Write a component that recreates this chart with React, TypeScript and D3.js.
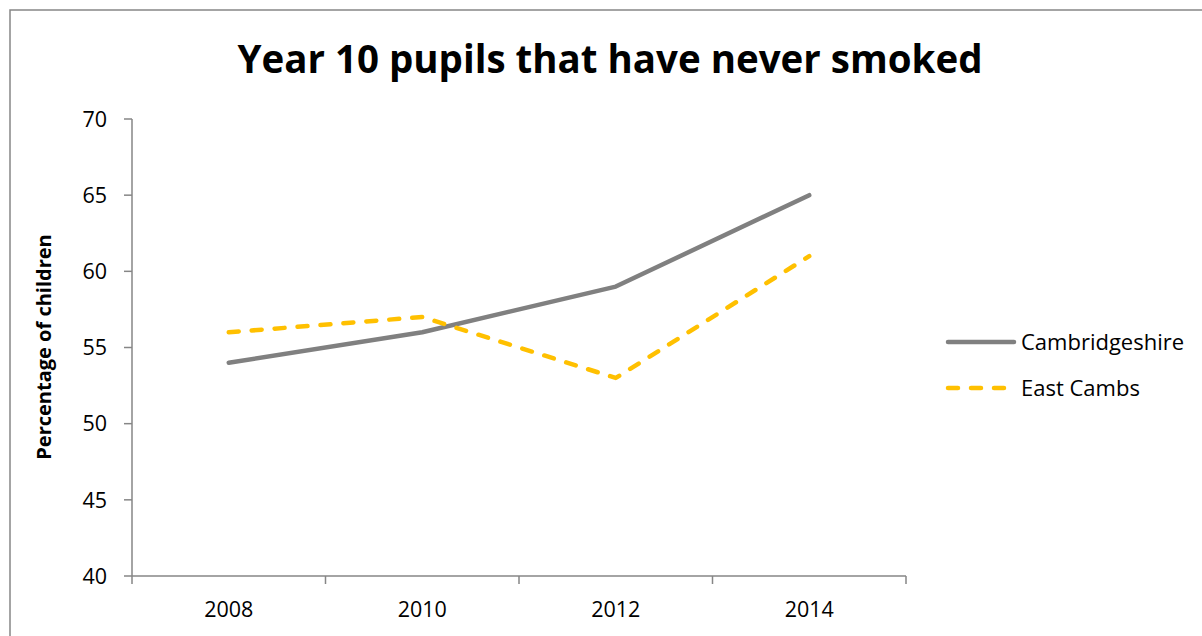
import React from "react";
import * as d3 from "d3";

const years = ["2008", "2010", "2012", "2014"];
const cambridgeshire = [54, 56, 59, 65];
const eastCambs = [56, 57, 53, 61];
const yTicks = [40, 45, 50, 55, 60, 65, 70];
const seriesNames = ["Cambridgeshire", "East Cambs"];
const seriesColors = ["#808080", "#FFC000"];

export default function App() {
  const W = 1202, H = 636;
  const left = 132, right = 906, top = 119, bottom = 576;
  const x = d3.scaleBand<string>().domain(years).range([left, right]).paddingInner(0).paddingOuter(0);
  const y = d3.scaleLinear().domain([40, 70]).range([bottom, top]);
  const line = d3.line<number>()
    .x((_, i) => (x(years[i]) as number) + x.bandwidth() / 2)
    .y((d) => y(d));
  const font = "'Open Sans', sans-serif";
  const axisColor = "#868686";
  const boundaries = [...years.map((yr) => x(yr) as number), right];
  const series = [cambridgeshire, eastCambs];
  return (
    <div style={{ position: "absolute", left: 0, top: 0 }}>
      <svg width={W} height={H} style={{ display: "block", background: "#fff" }}>
        <rect x={10} y={10} width={W + 20} height={H + 20} fill="#fff" stroke={axisColor} strokeWidth={1.5} />
        <text x={610} y={73} textAnchor="middle" fontFamily={font} fontWeight="bold" fontSize={40}
          textLength={745} lengthAdjust="spacingAndGlyphs" fill="#000">
          Year 10 pupils that have never smoked
        </text>
        {/* Y axis */}
        <line x1={left} x2={left} y1={top} y2={bottom} stroke={axisColor} strokeWidth={1.5} />
        {yTicks.map((t) => (
          <g key={t}>
            <line x1={left - 8} x2={left} y1={y(t)} y2={y(t)} stroke={axisColor} strokeWidth={1.5} />
            <text x={107} y={y(t)} dy="0.36em" textAnchor="end" fontFamily={font} fontSize={21.5} fill="#000">{t}</text>
          </g>
        ))}
        {/* X axis */}
        <line x1={left} x2={right} y1={bottom} y2={bottom} stroke={axisColor} strokeWidth={1.5} />
        {boundaries.map((b, i) => (
          <line key={i} x1={b} x2={b} y1={bottom} y2={bottom + 8} stroke={axisColor} strokeWidth={1.5} />
        ))}
        {years.map((yr) => (
          <text key={yr} x={(x(yr) as number) + x.bandwidth() / 2} y={617} textAnchor="middle"
            fontFamily={font} fontSize={21.5} fill="#000">{yr}</text>
        ))}
        <text transform={`translate(51,347) rotate(-90)`} textAnchor="middle" fontFamily={font}
          fontWeight="bold" fontSize={20} fill="#000">Percentage of children</text>
        {/* Lines */}
        {series.map((s, i) => (
          <path key={i} d={line(s) as string} fill="none" stroke={seriesColors[i]} strokeWidth={4.5}
            strokeLinecap="round" strokeLinejoin="round" strokeDasharray={i === 1 ? "10 13" : undefined} />
        ))}
        {/* Legend */}
        {seriesNames.map((n, i) => (
          <g key={n}>
            <line x1={948} x2={1014} y1={342 + i * 46} y2={342 + i * 46} stroke={seriesColors[i]} strokeWidth={4.5}
              strokeLinecap="round" strokeDasharray={i === 1 ? "10 13" : undefined} />
            <text x={1021} y={342 + i * 46} dy="0.36em" fontFamily={font} fontSize={22} fill="#000">{n}</text>
          </g>
        ))}
      </svg>
    </div>
  );
}
